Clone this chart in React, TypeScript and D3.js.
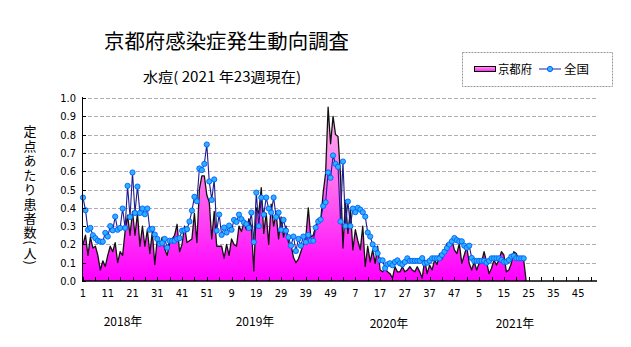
import React from "react";
import * as d3 from "d3";

// ---- data (定点あたり患者数) ----
const kyoto2018 = [0.20,0.25,0.14,0.24,0.18,0.19,0.14,0.06,0.11,0.08,
  0.14,0.19,0.16,0.21,0.10,0.16,0.14,0.27,0.36,0.25,
  0.38,0.25,0.37,0.19,0.30,0.19,0.28,0.15,0.27,0.09,
  0.23,0.19,0.24,0.175,0.14,0.21,0.23,0.25,0.31,0.16,
  0.20,0.30,0.21,0.22,0.23,0.37,0.21,0.50,0.575,0.575,
  0.47,0.43];
const kyoto2019 = [0.23,0.38,0.19,0.19,0.19,0.125,0.20,0.14,0.23,0.20,
  0.19,0.30,0.27,0.32,0.28,0.34,0.30,0.055,0.40,0.37,
  0.51,0.26,0.37,0.20,0.42,0.30,0.37,0.23,0.35,0.24,
  0.30,0.21,0.20,0.13,0.10,0.12,0.16,0.20,0.24,0.40,
  0.24,0.25,0.30,0.34,0.33,0.48,0.59,0.95,0.75,0.90,
  0.80,0.79];
const kyoto2020 = [0.58,0.18,0.44,0.26,0.39,0.17,0.28,0.22,0.17,0.30,
  0.08,0.19,0.105,0.17,0.096,0.19,0.06,0.05,0.07,0.05,
  0.04,0.015,0.078,0.05,0.05,0.078,0.05,0.06,0.078,0.06,
  0.05,0.078,0.05,0.015,0.115,0.04,0.087,0.06,0.115,0.09,
  0.15,0.12,0.16,0.205,0.196,0.224,0.17,0.15,0.205,0.096,
  0.142,0.187];
const kyoto2021 = [0.096,0.06,0.105,0.06,0.096,0.105,0.16,0.105,0.04,0.07,
  0.115,0.087,0.115,0.16,0.142,0.05,0.06,0.096,0.16,0.15,
  0.115,0.115,0.115];

const national2018 = [0.456,0.387,0.28,0.29,0.25,0.234,0.22,0.215,0.215,0.263,
  0.243,0.30,0.277,0.352,0.28,0.29,0.396,0.29,0.52,0.35,
  0.593,0.372,0.516,0.372,0.396,0.365,0.396,0.28,0.285,0.254,
  0.23,0.203,0.208,0.23,0.182,0.22,0.22,0.22,0.23,0.234,
  0.275,0.277,0.283,0.325,0.385,0.46,0.436,0.615,0.606,0.64,
  0.746,0.544];
const national2019 = [0.443,0.555,0.275,0.363,0.252,0.292,0.265,0.303,0.28,0.334,
  0.323,0.363,0.338,0.32,0.31,0.29,0.374,0.213,0.483,0.30,
  0.456,0.363,0.456,0.396,0.374,0.456,0.35,0.374,0.28,0.334,
  0.275,0.24,0.193,0.243,0.164,0.23,0.193,0.243,0.213,0.252,
  0.22,0.22,0.292,0.325,0.336,0.41,0.43,0.593,0.564,0.686,
  0.64,0.624];
const national2020 = [0.325,0.653,0.30,0.434,0.30,0.396,0.376,0.40,0.39,0.376,
  0.352,0.265,0.243,0.20,0.175,0.151,0.113,0.113,0.07,0.091,
  0.097,0.086,0.104,0.113,0.097,0.091,0.104,0.124,0.11,0.11,
  0.11,0.11,0.11,0.125,0.097,0.10,0.11,0.124,0.124,0.124,
  0.124,0.142,0.16,0.18,0.20,0.217,0.235,0.223,0.217,0.217,
  0.193,0.182];
const national2021 = [0.193,0.126,0.11,0.11,0.11,0.11,0.11,0.10,0.11,0.124,
  0.124,0.124,0.124,0.115,0.105,0.105,0.115,0.133,0.138,0.124,
  0.124,0.124,0.124];

const weekTickLabels = ["1","11","21","31","41","51","9","19","29","39","49","7","17","27","37","47","5","15","25","35","45"];
const yearLabels = ["2018年","2019年","2020年","2021年"];
const yTicks = [0,0.1,0.2,0.3,0.4,0.5,0.6,0.7,0.8,0.9,1.0];
const TOTAL_WEEKS = 208;

const kyoto = [...kyoto2018, ...kyoto2019, ...kyoto2020, ...kyoto2021];
const national = [...national2018, ...national2019, ...national2020, ...national2021];

const FONT = "'Noto Sans CJK JP', 'Noto Sans', sans-serif";
const NUMFONT = "'DejaVu Sans Condensed', 'Liberation Sans Narrow', 'DejaVu Sans', sans-serif";

export default function App() {
  const W = 631, H = 347;
  const x = d3.scaleLinear().domain([0, TOTAL_WEEKS - 1]).range([83, 595.5]);
  const y = d3.scaleLinear().domain([0, 1]).range([281, 98]);

  const kPts: [number, number][] = kyoto.map((v, i) => [i, v]);
  kPts.push([kyoto.length, 0]);
  const area = d3.area<[number, number]>().x(d => x(d[0])).y0(y(0)).y1(d => y(d[1]));
  const line = d3.line<[number, number]>().x(d => x(d[0])).y(d => y(d[1]));
  const nPts: [number, number][] = national.map((v, i) => [i, v]);

  const xTicks = d3.range(0, TOTAL_WEEKS, 5);
  const yearX = [123, 255, 389, 515];
  const yearY = [326, 326, 328, 328];

  return (
    <div style={{ position: "fixed", left: 0, top: 0 }}>
      <svg width={W} height={H} style={{ display: "block", background: "#fff" }} fontFamily={FONT}>
        <defs>
          <linearGradient id="kg" gradientUnits="userSpaceOnUse" x1="0" y1={y(1)} x2="0" y2={y(0)}>
            <stop offset="0%" stopColor="#ffc4ec" />
            <stop offset="45%" stopColor="#ff70ec" />
            <stop offset="100%" stopColor="#ff00ff" />
          </linearGradient>
          <linearGradient id="kgl" x1="0" y1="0" x2="0" y2="1">
            <stop offset="0%" stopColor="#ff9ff0" />
            <stop offset="100%" stopColor="#ff20f0" />
          </linearGradient>
        </defs>
        <rect x={0} y={0} width={W} height={H} fill="#fff" />

        {/* title */}
        <text x={104} y={49} fontSize={20} textLength={245} lengthAdjust="spacingAndGlyphs">京都府感染症発生動向調査</text>
        <text x={143} y={82} fontSize={14} textLength={158} lengthAdjust="spacingAndGlyphs">水痘( 2021 年23週現在)</text>

        {/* legend */}
        <rect x={462.5} y={52.5} width={150} height={34} fill="#fff" stroke="#999" strokeDasharray="2 1" />
        <rect x={474.5} y={66.5} width={21} height={5} fill="url(#kgl)" stroke="#000" />
        <text x={498} y={73.5} fontSize={12} textLength={34} lengthAdjust="spacingAndGlyphs">京都府</text>
        <line x1={539} x2={561} y1={69} y2={69} stroke="#2020a0" strokeWidth={1} />
        <circle cx={550} cy={69} r={2.6} fill="#33b5ff" stroke="#0060ff" strokeWidth={1} />
        <text x={564} y={73.5} fontSize={12} textLength={25} lengthAdjust="spacingAndGlyphs">全国</text>

        {/* y label */}
        <text x={30} y={125} fontSize={13} style={{ writingMode: "vertical-rl" } as any} textLength={140} lengthAdjust="spacing">定点あたり患者数(人)</text>

        {/* grid */}
        {yTicks.filter(t => t > 0).map(t => (
          <line key={t} x1={82} x2={597} y1={Math.round(y(t)) + 0.5} y2={Math.round(y(t)) + 0.5} stroke="#b4a8b8" strokeDasharray="4 2" />
        ))}

        {/* Kyoto area */}
        <path d={area(kPts) || ""} fill="url(#kg)" />
        <path d={line(kPts) || ""} fill="none" stroke="#111" strokeWidth={1.3} strokeLinejoin="round" />

        {/* national line */}
        <path d={line(nPts) || ""} fill="none" stroke="#1c1c90" strokeWidth={1.1} />
        {nPts.map(([i, v]) => (
          <circle key={i} cx={x(i)} cy={y(v)} r={2.6} fill="#2eb0ff" stroke="#0060ff" strokeWidth={0.9} />
        ))}

        {/* axes */}
        <line x1={82.5} x2={82.5} y1={97} y2={281} stroke="#000" />
        <line x1={82} x2={597} y1={281} y2={281} stroke="#000" strokeWidth={1.5} />
        {yTicks.map(t => (
          <line key={"yt" + t} x1={82} x2={86} y1={Math.round(y(t)) + 0.5} y2={Math.round(y(t)) + 0.5} stroke="#000" />
        ))}
        {xTicks.map(i => (
          <line key={"xt" + i} x1={Math.round(x(i)) + 0.5} x2={Math.round(x(i)) + 0.5} y1={277} y2={281} stroke="#000" />
        ))}
        {yTicks.map(t => (
          <text key={"yl" + t} x={76} y={y(t) + 4} fontSize={11} textAnchor="end" fontFamily={NUMFONT} style={{ fontStretch: "condensed" }}>{d3.format(".1f")(t)}</text>
        ))}
        {weekTickLabels.map((lab, k) => (
          <text key={"xl" + k} x={x(k * 10)} y={297} fontSize={11} textAnchor="middle" fontFamily={NUMFONT} style={{ fontStretch: "condensed" }}>{lab}</text>
        ))}
        {yearLabels.map((lab, k) => (
          <text key={"yr" + k} x={yearX[k]} y={yearY[k]} fontSize={12} textAnchor="middle">{lab}</text>
        ))}
      </svg>
    </div>
  );
}
